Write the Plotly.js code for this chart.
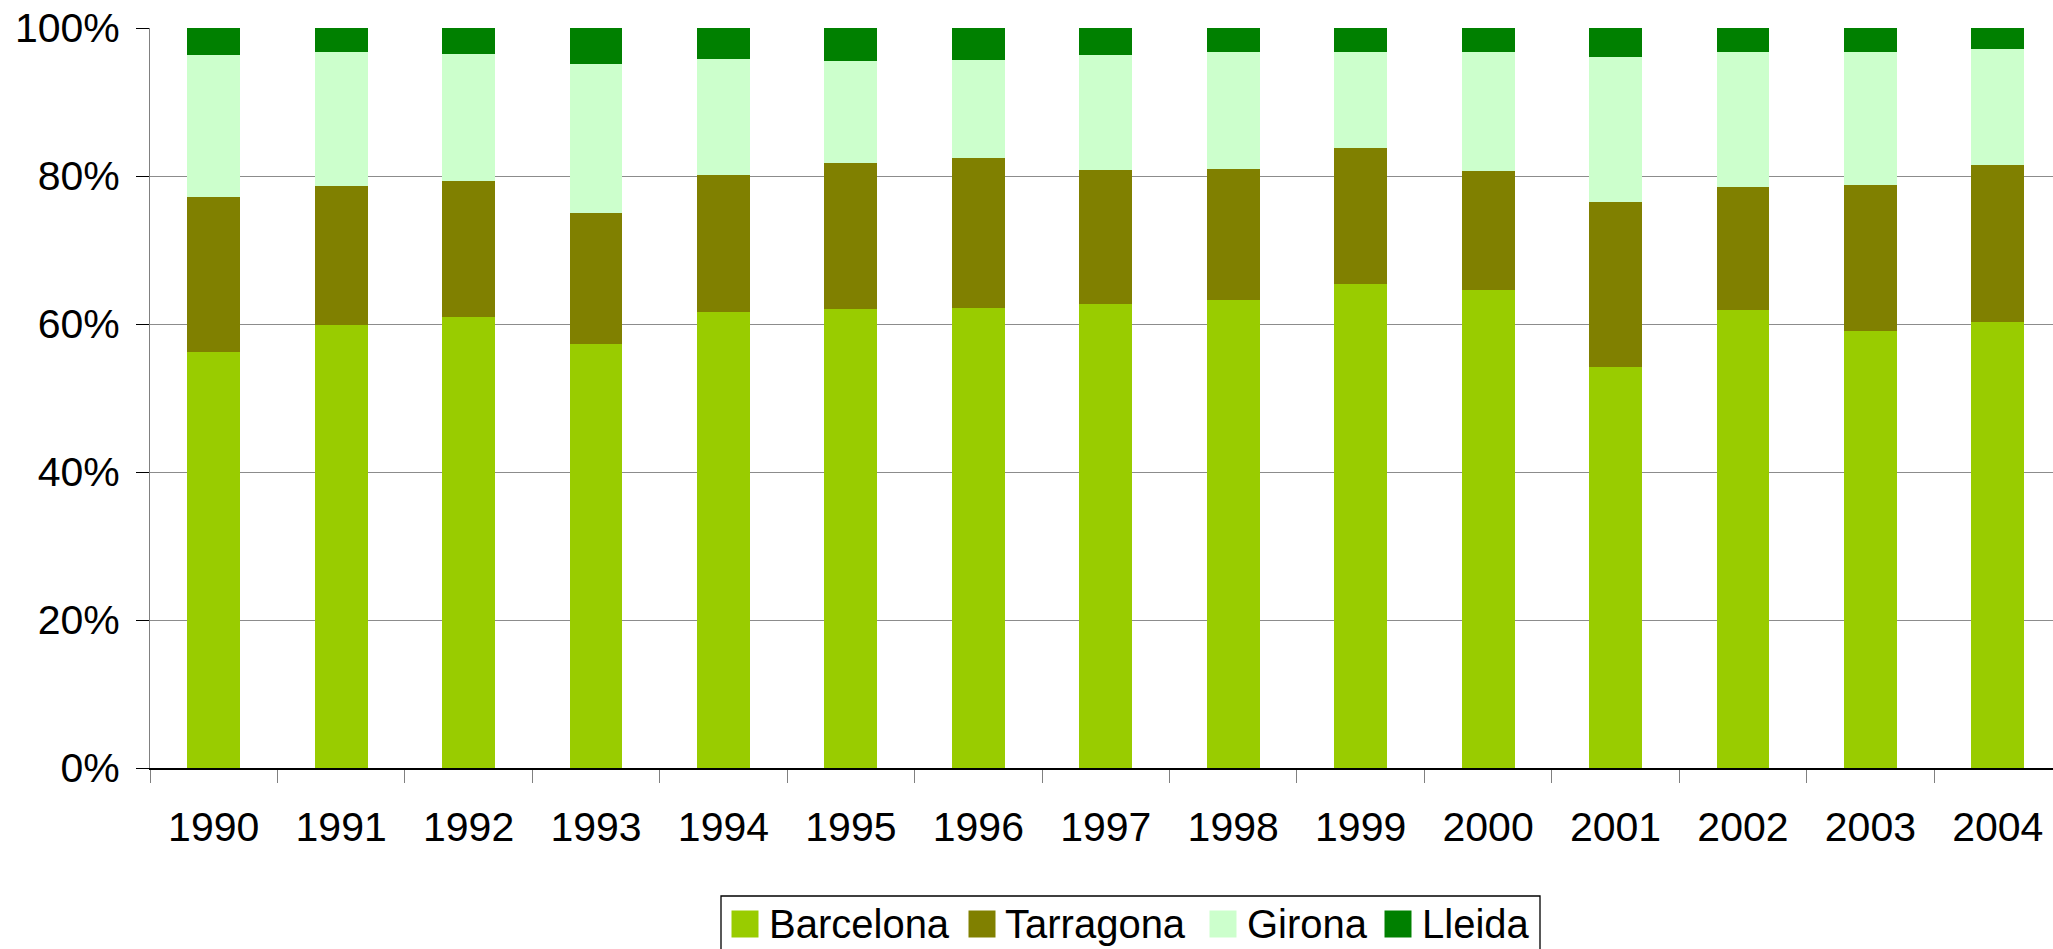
<!DOCTYPE html>
<html>
<head>
<meta charset="utf-8">
<script src="https://cdn.plot.ly/plotly-3.0.1.min.js"></script>
<style>
  html, body { margin: 0; padding: 0; background: #fff; overflow: hidden; }
  #chart { width: 2053px; height: 949px; }
</style>
</head>
<body>
<div id="chart"></div>
<script>
// ---- Data (percent share per year) ----
const years = ["1990","1991","1992","1993","1994","1995","1996","1997","1998","1999","2000","2001","2002","2003","2004"];
const seriesNames = ["Barcelona", "Tarragona", "Girona", "Lleida"];
const barcelona = [56.2, 59.8, 60.9, 57.3, 61.7, 62.1, 62.1, 62.7, 63.2, 65.4, 64.7, 54.2, 61.9, 59.0, 60.3];
const tarragona = [21.0, 18.8, 18.3, 17.6, 18.5, 19.7, 20.4, 18.1, 17.6, 18.4, 16.0, 22.3, 16.6, 19.8, 21.2];
const girona    = [19.2, 18.1, 17.2, 20.2, 15.7, 13.8, 13.2, 15.6, 15.8, 13.0, 16.2, 19.6, 18.2, 17.9, 15.6];
const lleida    = [ 3.6,  3.3,  3.5,  4.8,  4.2,  4.5,  4.3,  3.6,  3.3,  3.2,  3.2,  3.9,  3.3,  3.3,  2.9];
const yTickVals = [0, 20, 40, 60, 80, 100];
const yTickText = ["0%", "20%", "40%", "60%", "80%", "100%"];

const colors = ["#99CC00", "#808000", "#CCFFCC", "#008000"];
const seriesValues = [barcelona, tarragona, girona, lleida];

const FONT = "'Liberation Sans', Arial, Helvetica, sans-serif";

const traces = seriesNames.map((name, i) => ({
  type: "bar",
  name: name,
  x: years,
  y: seriesValues[i],
  width: 0.415,
  marker: { color: colors[i], line: { width: 0 } },
  showlegend: false,
  hoverinfo: "x+y+name"
}));

// ---- Layout geometry ----
const W = 2053, H = 949;
const mL = 150, mR = 0, mT = 28, mB = 181;
const plotW = W - mL - mR, plotH = H - mT - mB;
const px2x = px => (px - mL) / plotW;
const py2y = py => (H - mB - py) / plotH;

// custom legend (box + swatches + labels)
const legendBox = { x0: 721, x1: 1540, y0: 896, y1: 962 };
const swatchX = [731.5, 968.5, 1209.5, 1384.5];
const labelX = [767, 1003, 1245, 1420];
const swatchSize = 27, legendMidY = 924;

const shapes = [{
  type: "rect", xref: "paper", yref: "paper",
  x0: px2x(legendBox.x0), x1: px2x(legendBox.x1),
  y0: py2y(legendBox.y1), y1: py2y(legendBox.y0),
  line: { color: "#000", width: 1.3 }, fillcolor: "rgba(0,0,0,0)"
}];
const annotations = [];
seriesNames.forEach((name, i) => {
  shapes.push({
    type: "rect", xref: "paper", yref: "paper",
    x0: px2x(swatchX[i]), x1: px2x(swatchX[i] + swatchSize),
    y0: py2y(legendMidY + swatchSize / 2), y1: py2y(legendMidY - swatchSize / 2),
    line: { width: 0 }, fillcolor: colors[i]
  });
  annotations.push({
    xref: "paper", yref: "paper",
    x: px2x(labelX[i]), y: py2y(legendMidY),
    xanchor: "left", yanchor: "middle",
    text: name, showarrow: false,
    font: { family: FONT, size: 40, color: "#000" }
  });
});

const layout = {
  width: W, height: H,
  margin: { l: mL, r: mR, t: mT, b: mB, pad: 0 },
  paper_bgcolor: "#fff", plot_bgcolor: "#fff",
  barmode: "stack",
  barnorm: "percent",
  showlegend: false,
  font: { family: FONT, size: 41, color: "#000" },
  xaxis: {
    type: "category",
    range: [-0.5, 14.433],
    tickson: "boundaries",
    ticks: "outside", ticklen: 13, tickwidth: 1, tickcolor: "#808080",
    showline: true, linecolor: "#000", linewidth: 1.5,
    showgrid: false, zeroline: false,
    ticklabelstandoff: 22,
    tickfont: { family: FONT, size: 41, color: "#000" }
  },
  yaxis: {
    range: [0, 100],
    tickvals: yTickVals, ticktext: yTickText,
    ticks: "outside", ticklen: 13, tickwidth: 1, tickcolor: "#000",
    showline: true, linecolor: "#808080", linewidth: 1,
    showgrid: true, gridcolor: "#8c8c8c", gridwidth: 1,
    zeroline: false,
    ticklabelstandoff: 8,
    tickfont: { family: FONT, size: 41, color: "#000" }
  },
  shapes: shapes,
  annotations: annotations
};

Plotly.newPlot("chart", traces, layout, { displayModeBar: false, staticPlot: true });
</script>
</body>
</html>
